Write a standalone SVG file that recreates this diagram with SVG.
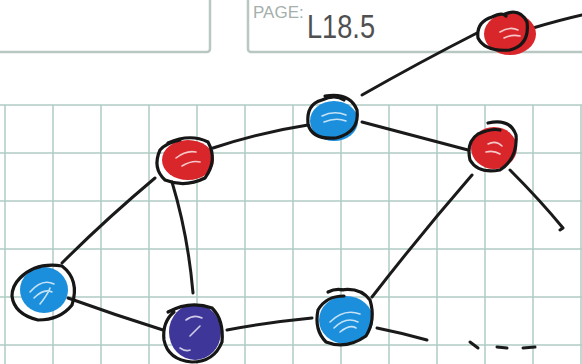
<svg xmlns="http://www.w3.org/2000/svg" width="582" height="364" viewBox="0 0 582 364">
<style>
.grid{stroke:#b0ccc4;stroke-width:1.5;fill:none}
.box{stroke:#b9c7c2;stroke-width:2.5;fill:#fff}
.edge{stroke:#1a1a1a;stroke-width:3;fill:none;stroke-linecap:round;stroke-linejoin:round}
.ol{stroke:#161616;stroke-width:3.2;fill:none;stroke-linecap:round}
.hl{stroke:#ffffff;stroke-width:1.6;fill:none;opacity:0.75;stroke-linecap:round}
.red{fill:#d8262a}
.blue{fill:#1c8fdc}
.purple{fill:#3f3699}
</style>
<rect width="582" height="364" fill="#ffffff"/>
<g id="paper">
<rect class="box" x="-10" y="-10" width="220" height="62" rx="3"/>
<rect class="box" x="248" y="-10" width="350" height="62" rx="3"/>
<text x="253" y="18" font-family="Liberation Sans, Arial, sans-serif" font-size="17" fill="#a3b0ac">PAGE:</text>
<text x="307" y="38" font-family="Liberation Sans, Arial, sans-serif" font-size="34" fill="#505050" textLength="68" lengthAdjust="spacingAndGlyphs">L18.5</text>
<g class="grid">
<path d="M0 105H582M0 153H582M0 201H582M0 249H582M0 297H582M0 345H582"/>
<path d="M5 105V364M53 105V364M101 105V364M149 105V364M197 105V364M245 105V364M293 105V364M341 105V364M389 105V364M437 105V364M485 105V364M533 105V364M581 105V364"/>
</g>
</g>
<g id="connectors" class="edge">
<path d="M362 95 Q420 62 477 33"/>
<path d="M533 28 Q560 20 582 15"/>
<path d="M213 148 Q262 132 308 125"/>
<path d="M362 122 Q415 136 468 150"/>
<path d="M155 178 Q105 220 62 263"/>
<path d="M172 182 Q188 235 193 293"/>
<path d="M68 298 Q115 315 163 330"/>
<path d="M227 330 Q270 322 312 318"/>
<path d="M472 175 Q420 235 372 297"/>
<path d="M510 170 Q540 200 563 228 L560 230"/>
<path d="M377 328 Q402 333 427 340"/>
<path d="M470 342 L478 348"/>
<path d="M497 347 L507 348"/>
<path d="M523 348 L535 347"/>
</g>
<g id="n1">
<ellipse class="red" cx="510" cy="34" rx="26" ry="21"/>
<path class="hl" d="M500 32 Q510 26 518 30 M504 38 Q512 34 520 36"/>
<path class="ol" d="M505 14 Q520 8 527 22 Q530 45 510 50 Q485 52 478 38 Q476 22 492 17 Q502 12 506 16"/>
</g>
<g id="n2">
<ellipse class="blue" cx="334" cy="121" rx="24" ry="20"/>
<path class="hl" d="M322 116 Q334 110 346 115 M324 122 Q336 117 346 121"/>
<path class="ol" d="M325 96 Q350 92 357 110 Q360 132 336 138 Q312 140 308 124 Q306 104 322 100 Q335 94 344 100"/>
</g>
<g id="n3">
<ellipse class="red" cx="188" cy="160" rx="26" ry="20"/>
<path class="hl" d="M176 158 Q186 150 196 152 M182 166 Q192 160 200 162"/>
<path class="ol" d="M168 143 Q190 133 208 142 Q218 160 205 178 Q185 188 165 180 Q152 168 160 150 Q166 143 180 140"/>
</g>
<g id="n4">
<ellipse class="red" cx="494" cy="148" rx="23" ry="21"/>
<path class="hl" d="M488 144 Q496 140 502 146 M486 152 Q494 150 500 154"/>
<path class="ol" d="M488 123 Q510 118 516 135 Q518 158 500 170 Q478 174 470 160 Q466 142 478 134 Q492 128 500 130"/>
</g>
<g id="n5">
<ellipse class="blue" cx="44" cy="290" rx="24" ry="23"/>
<path class="hl" d="M30 292 Q42 278 54 284 M34 298 Q44 288 52 292 M40 304 Q48 294 50 288"/>
<path class="ol" d="M20 278 Q36 262 62 266 Q80 280 72 305 Q60 320 38 320 Q14 314 12 296 Q12 286 20 278"/>
</g>
<g id="n6">
<ellipse class="purple" cx="195" cy="332" rx="26" ry="28"/>
<path class="hl" d="M186 320 Q194 314 202 318 M190 336 Q196 330 200 326 M180 348 Q186 352 190 350"/>
<path class="ol" d="M168 312 Q190 300 212 308 Q224 320 222 342 Q214 362 192 362 Q168 360 164 340 Q162 322 174 312"/>
</g>
<g id="n7">
<ellipse class="blue" cx="346" cy="320" rx="27" ry="24"/>
<path class="hl" d="M330 322 Q344 308 360 314 M334 328 Q346 316 358 322 M340 332 Q350 324 356 328"/>
<path class="ol" d="M341 290 Q360 287 370 300 Q376 320 366 336 Q346 350 326 342 Q314 330 318 310 Q326 296 344 296 M343 290 Q336 288 328 292"/>
</g>
</svg>
